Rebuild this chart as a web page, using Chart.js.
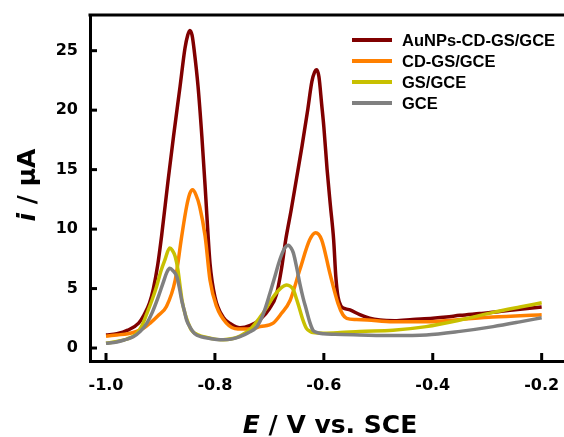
<!DOCTYPE html>
<html>
<head>
<meta charset="utf-8">
<script src="https://cdn.jsdelivr.net/npm/chart.js@4.4.1/dist/chart.umd.min.js"></script>
<style>
  html, body { margin: 0; padding: 0; background: #fff; }
  canvas { display: block; }
</style>
</head>
<body>
<canvas id="chartDPV" width="564" height="437"></canvas>
<script>
// tick positions
const xTicks = [-1.0, -0.8, -0.6, -0.4, -0.2];
const yTicks = [0, 5, 10, 15, 20, 25];

// AuNPs-CD-GS/GCE
const auE = [-1.0, -0.98, -0.96, -0.94, -0.93, -0.92, -0.913, -0.905, -0.898, -0.886, -0.876, -0.864, -0.855, -0.85, -0.846, -0.842, -0.838, -0.831, -0.824, -0.818, -0.815, -0.809, -0.8, -0.785, -0.77, -0.754, -0.735, -0.717, -0.7, -0.687, -0.678, -0.67, -0.66, -0.65, -0.64, -0.63, -0.622, -0.617, -0.613, -0.609, -0.604, -0.6, -0.594, -0.588, -0.582, -0.578, -0.574, -0.568, -0.56, -0.552, -0.534, -0.516, -0.497, -0.47, -0.437, -0.4, -0.375, -0.35, -0.314, -0.28, -0.253, -0.2];
const auI = [1.1, 1.2, 1.5, 2.1, 2.8, 3.8, 5.0, 7.0, 9.4, 14.1, 17.8, 22.0, 25.2, 26.3, 26.7, 26.3, 25.0, 22.0, 17.8, 13.6, 11.3, 7.1, 4.3, 2.6, 2.0, 1.7, 1.9, 2.4, 3.3, 4.5, 6.6, 9.1, 11.6, 14.3, 17.0, 19.9, 22.4, 23.2, 23.4, 22.8, 20.5, 18.6, 15.0, 12.0, 9.1, 6.0, 4.3, 3.5, 3.3, 3.2, 2.8, 2.5, 2.35, 2.3, 2.4, 2.5, 2.6, 2.75, 2.9, 3.05, 3.2, 3.45];

// CD-GS/GCE
const cdE = [-1.0, -0.98, -0.96, -0.944, -0.93, -0.919, -0.905, -0.889, -0.873, -0.861, -0.852, -0.846, -0.841, -0.835, -0.828, -0.818, -0.809, -0.797, -0.779, -0.758, -0.735, -0.717, -0.693, -0.678, -0.662, -0.644, -0.626, -0.615, -0.604, -0.589, -0.574, -0.565, -0.558, -0.54, -0.52, -0.473, -0.412, -0.35, -0.29, -0.2];
const cdI = [1.0, 1.1, 1.2, 1.4, 1.7, 2.1, 2.7, 3.5, 5.7, 9.4, 11.9, 13.0, 13.3, 12.9, 11.9, 9.4, 5.7, 3.5, 2.1, 1.6, 1.6, 1.8, 2.1, 2.9, 4.0, 6.6, 9.1, 9.7, 9.1, 6.3, 3.75, 2.8, 2.5, 2.4, 2.35, 2.2, 2.2, 2.4, 2.6, 2.8];

// GS/GCE
const gsE = [-1.0, -0.98, -0.962, -0.944, -0.935, -0.925, -0.915, -0.907, -0.899, -0.892, -0.883, -0.878, -0.873, -0.868, -0.864, -0.86, -0.855, -0.849, -0.843, -0.83, -0.815, -0.8, -0.785, -0.767, -0.754, -0.735, -0.717, -0.705, -0.693, -0.68, -0.668, -0.662, -0.656, -0.65, -0.644, -0.638, -0.632, -0.625, -0.62, -0.6, -0.57, -0.534, -0.473, -0.412, -0.35, -0.289, -0.24, -0.2];
const gsI = [0.4, 0.55, 0.75, 1.2, 1.8, 2.9, 4.1, 5.2, 6.5, 7.4, 8.4, 8.2, 7.7, 6.6, 5.2, 3.9, 2.9, 2.1, 1.5, 1.1, 0.9, 0.75, 0.7, 0.8, 1.0, 1.6, 2.6, 3.4, 4.3, 5.0, 5.3, 5.2, 4.9, 4.1, 3.2, 2.3, 1.65, 1.4, 1.3, 1.25, 1.3, 1.4, 1.5, 1.8, 2.35, 3.0, 3.45, 3.8];

// GCE
const gceE = [-1.0, -0.98, -0.965, -0.95, -0.937, -0.925, -0.915, -0.904, -0.895, -0.888, -0.883, -0.877, -0.87, -0.865, -0.861, -0.856, -0.852, -0.845, -0.837, -0.825, -0.809, -0.79, -0.77, -0.754, -0.738, -0.723, -0.711, -0.699, -0.69, -0.681, -0.672, -0.665, -0.66, -0.656, -0.65, -0.644, -0.638, -0.632, -0.626, -0.62, -0.612, -0.601, -0.58, -0.534, -0.473, -0.412, -0.35, -0.289, -0.24, -0.2];
const gceI = [0.4, 0.5, 0.7, 0.95, 1.4, 2.1, 3.0, 4.3, 5.5, 6.4, 6.7, 6.5, 6.0, 5.0, 4.0, 3.1, 2.35, 1.7, 1.2, 0.95, 0.8, 0.7, 0.75, 0.95, 1.3, 1.8, 2.9, 4.6, 6.0, 7.4, 8.4, 8.65, 8.4, 8.0, 6.8, 5.4, 4.2, 3.2, 2.2, 1.5, 1.3, 1.2, 1.15, 1.1, 1.05, 1.1, 1.4, 1.8, 2.2, 2.55];

const seriesLabels = ["AuNPs-CD-GS/GCE", "CD-GS/GCE", "GS/GCE", "GCE"];
const seriesColors = ["#800000", "#ff8000", "#c8c000", "#808080"];

const tickFont = "DejaVu Sans";
const legendFont = "Liberation Sans";

function toPoints(e, i) {
  return e.map((v, k) => ({ x: v, y: i[k] }));
}

function buatDataset(idx, e, i) {
  return {
    label: seriesLabels[idx],
    data: toPoints(e, i),
    borderColor: seriesColors[idx],
    backgroundColor: seriesColors[idx],
    borderWidth: 3.5,
    pointRadius: 0,
    fill: false,
    cubicInterpolationMode: "monotone",
    order: 4 - idx
  };
}

// inward ticks, top frame, legend and axis titles
const hiasan = {
  id: "hiasan",
  afterDraw(chart) {
    const ctx = chart.ctx;
    const area = chart.chartArea;
    const xs = chart.scales.x;
    const ys = chart.scales.y;
    ctx.save();
    ctx.strokeStyle = "#000";
    ctx.lineWidth = 3;
    ctx.lineCap = "butt";

    ctx.beginPath();
    ctx.moveTo(area.left - 1.5, area.top);
    ctx.lineTo(area.right, area.top);
    ctx.stroke();

    xTicks.forEach(v => {
      const px = xs.getPixelForValue(v);
      ctx.beginPath();
      ctx.moveTo(px, area.bottom);
      ctx.lineTo(px, area.bottom - 8);
      ctx.stroke();
    });
    yTicks.forEach(v => {
      const py = ys.getPixelForValue(v);
      ctx.beginPath();
      ctx.moveTo(area.left, py);
      ctx.lineTo(area.left + 7, py);
      ctx.stroke();
    });

    // legend
    ctx.lineWidth = 4;
    ctx.font = "bold 16.5px '" + legendFont + "'";
    ctx.textAlign = "left";
    ctx.textBaseline = "middle";
    chart.data.datasets.forEach((ds, k) => {
      const y = 40 + k * 21;
      ctx.strokeStyle = ds.borderColor;
      ctx.beginPath();
      ctx.moveTo(352, y);
      ctx.lineTo(392, y);
      ctx.stroke();
      ctx.fillStyle = "#000";
      ctx.fillText(ds.label, 402, y + 1);
    });

    // x title
    ctx.fillStyle = "#000";
    ctx.textBaseline = "alphabetic";
    const fItal = "italic bold 25px '" + tickFont + "'";
    const fBold = "bold 25px '" + tickFont + "'";
    ctx.font = fItal;
    const wE = ctx.measureText("E").width;
    ctx.font = fBold;
    const xRest = " / V vs. SCE";
    const wR = ctx.measureText(xRest).width;
    let sx = 330 - (wE + wR) / 2;
    ctx.font = fItal;
    ctx.fillText("E", sx, 433);
    ctx.font = fBold;
    ctx.fillText(xRest, sx + wE, 433);

    // y title
    ctx.translate(35, 185);
    ctx.rotate(-Math.PI / 2);
    ctx.font = fItal;
    const wI = ctx.measureText("i").width;
    ctx.font = fBold;
    const yRest = " / \u03bcA";
    const wY = ctx.measureText(yRest).width;
    sx = -(wI + wY) / 2;
    ctx.font = fItal;
    ctx.fillText("i", sx, 0);
    ctx.font = fBold;
    ctx.fillText(yRest, sx + wI, 0);
    ctx.restore();
  }
};

const ctx = document.getElementById("chartDPV").getContext("2d");
const chart = new Chart(ctx, {
  type: "line",
  data: {
    datasets: [
      buatDataset(0, auE, auI),
      buatDataset(1, cdE, cdI),
      buatDataset(2, gsE, gsI),
      buatDataset(3, gceE, gceI)
    ]
  },
  options: {
    responsive: false,
    devicePixelRatio: 1,
    animation: false,
    layout: { padding: { left: 0, top: 15, right: 0, bottom: 0 } },
    plugins: {
      legend: { display: false },
      tooltip: { enabled: false }
    },
    scales: {
      x: {
        type: "linear",
        min: -1.0294,
        max: -0.159,
        afterBuildTicks: s => { s.ticks = xTicks.map(v => ({ value: v })); },
        afterFit: s => { s.height = 76; s.paddingLeft = 0; s.paddingRight = 0; },
        grid: { display: false, drawTicks: false },
        border: { display: true, width: 3, color: "#000" },
        ticks: {
          color: "#000",
          padding: 15,
          maxRotation: 0,
          autoSkip: false,
          font: { family: tickFont, size: 16, weight: "bold" },
          callback: v => v.toFixed(1)
        }
      },
      y: {
        type: "linear",
        min: -1.09,
        max: 28,
        afterBuildTicks: s => { s.ticks = yTicks.map(v => ({ value: v })); },
        afterFit: s => { s.width = 90; s.paddingTop = 0; s.paddingBottom = 0; },
        grid: { display: false, drawTicks: false },
        border: { display: true, width: 3, color: "#000" },
        ticks: {
          color: "#000",
          padding: 12,
          autoSkip: false,
          font: { family: tickFont, size: 16, weight: "bold" },
          callback: v => String(v)
        }
      }
    }
  },
  plugins: [hiasan]
});
</script>
</body>
</html>
